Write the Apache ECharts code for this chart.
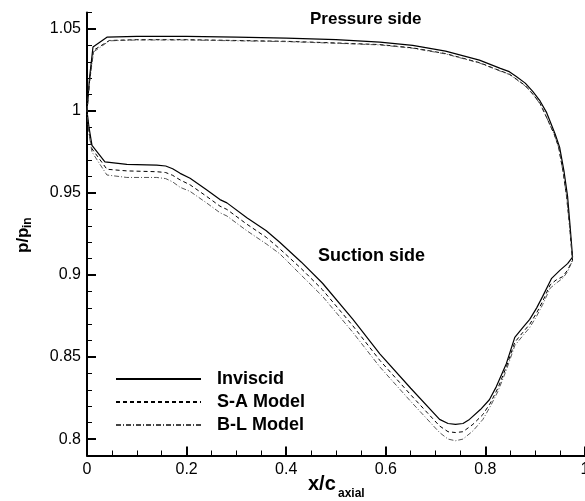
<!DOCTYPE html>
<html>
<head>
<meta charset="utf-8">
<script src="https://cdn.jsdelivr.net/npm/echarts@6/dist/echarts.min.js"></script>
<style>html,body{margin:0;padding:0;background:#fff}#c{width:585px;height:501px}</style>
</head>
<body>
<div id="c"></div>
<script>
// ---- data (x/c_axial, p/p_in) ----
var seriesNames = ['Inviscid', 'S-A Model', 'B-L Model'];

var inviscidPressure = [[0,1.0],[0.005,1.02],[0.012,1.039],[0.04,1.045],[0.1,1.0455],[0.2,1.0455],[0.3,1.045],[0.4,1.0445],[0.5,1.0435],[0.588,1.042],[0.654,1.040],[0.72,1.0365],[0.788,1.031],[0.83,1.026],[0.848,1.024],[0.862,1.021],[0.88,1.017],[0.895,1.012],[0.91,1.006],[0.923,0.999],[0.94,0.986],[0.949,0.978],[0.958,0.963],[0.965,0.948],[0.970,0.93],[0.975,0.911]];
var inviscidSuction = [[0,1.0],[0.004,0.99],[0.01,0.979],[0.036,0.969],[0.08,0.9675],[0.14,0.967],[0.158,0.9665],[0.172,0.9648],[0.187,0.962],[0.207,0.959],[0.24,0.952],[0.267,0.946],[0.281,0.944],[0.321,0.935],[0.36,0.927],[0.387,0.920],[0.43,0.908],[0.473,0.895],[0.534,0.873],[0.588,0.852],[0.65,0.831],[0.708,0.812],[0.725,0.8095],[0.74,0.809],[0.755,0.8095],[0.768,0.812],[0.79,0.818],[0.808,0.824],[0.822,0.832],[0.842,0.846],[0.859,0.862],[0.875,0.868],[0.889,0.873],[0.903,0.880],[0.915,0.887],[0.933,0.898],[0.95,0.903],[0.965,0.907],[0.975,0.911]];

var saPressure = [[0,1.0],[0.005,1.018],[0.013,1.037],[0.045,1.043],[0.1,1.0435],[0.2,1.0435],[0.3,1.043],[0.4,1.0425],[0.5,1.0415],[0.588,1.0405],[0.654,1.0385],[0.72,1.035],[0.788,1.0295],[0.83,1.0245],[0.848,1.0225],[0.862,1.0195],[0.88,1.0155],[0.895,1.0105],[0.91,1.0045],[0.92,0.998],[0.938,0.986],[0.947,0.978],[0.956,0.963],[0.963,0.948],[0.969,0.93],[0.975,0.909]];
var saSuction = [[0,1.0],[0.004,0.988],[0.01,0.977],[0.04,0.9645],[0.08,0.9635],[0.14,0.963],[0.158,0.9625],[0.172,0.9608],[0.187,0.958],[0.207,0.955],[0.24,0.948],[0.267,0.942],[0.281,0.940],[0.321,0.931],[0.36,0.923],[0.387,0.916],[0.43,0.904],[0.473,0.891],[0.534,0.869],[0.588,0.848],[0.65,0.827],[0.708,0.808],[0.725,0.8045],[0.74,0.804],[0.755,0.8045],[0.775,0.809],[0.795,0.815],[0.81,0.822],[0.825,0.831],[0.842,0.844],[0.859,0.859],[0.875,0.865],[0.889,0.870],[0.903,0.877],[0.915,0.884],[0.93,0.894],[0.942,0.897],[0.955,0.899],[0.965,0.903],[0.975,0.909]];

var blPressure = [[0,1.0],[0.005,1.017],[0.013,1.036],[0.045,1.0428],[0.1,1.0433],[0.2,1.0433],[0.3,1.0428],[0.4,1.0423],[0.5,1.0413],[0.588,1.0403],[0.654,1.0383],[0.72,1.0348],[0.788,1.0293],[0.83,1.0243],[0.848,1.0223],[0.862,1.0193],[0.88,1.0153],[0.895,1.0103],[0.91,1.0043],[0.92,0.998],[0.938,0.986],[0.947,0.978],[0.956,0.963],[0.963,0.948],[0.969,0.93],[0.975,0.909]];
var blSuction = [[0,1.0],[0.004,0.986],[0.01,0.975],[0.04,0.961],[0.08,0.9595],[0.14,0.9595],[0.158,0.9588],[0.172,0.9568],[0.187,0.9535],[0.207,0.951],[0.24,0.944],[0.267,0.938],[0.281,0.936],[0.321,0.927],[0.36,0.919],[0.387,0.913],[0.43,0.900],[0.473,0.887],[0.534,0.865],[0.588,0.844],[0.65,0.823],[0.708,0.804],[0.725,0.800],[0.74,0.799],[0.755,0.800],[0.775,0.805],[0.795,0.812],[0.81,0.820],[0.825,0.829],[0.842,0.842],[0.859,0.857],[0.875,0.863],[0.889,0.868],[0.903,0.875],[0.915,0.882],[0.93,0.892],[0.942,0.895],[0.955,0.898],[0.965,0.902],[0.975,0.909]];

var yMajorTicks = [0.8, 0.85, 0.9, 0.95, 1.0, 1.05];
var yMinorTicks = [0.8,0.81,0.82,0.83,0.84,0.85,0.86,0.87,0.88,0.89,0.9,0.91,0.92,0.93,0.94,0.95,0.96,0.97,0.98,0.99,1.0,1.01,1.02,1.03,1.04,1.05,1.06];

function loop(p, s) { return p.concat(s.slice().reverse()); }

var FONT = '"Liberation Sans", Arial, Helvetica, sans-serif';
var chart = echarts.init(document.getElementById('c'), null, {renderer: 'canvas'});

var fmt = function (v) { return String(+(+v).toFixed(2)); };

chart.setOption({
  animation: false,
  backgroundColor: '#fff',
  grid: {left: 87, right: 0, top: 12.6, bottom: 45.5, containLabel: false, outerBoundsMode: 'none'},
  xAxis: {
    type: 'value', min: 0, max: 1, interval: 0.2,
    axisLine: {show: true, lineStyle: {color: '#000', width: 2}},
    axisTick: {show: true, inside: true, length: 9, lineStyle: {color: '#000', width: 2}},
    minorTick: {show: true, splitNumber: 4, length: 5, lineStyle: {color: '#000', width: 1}},
    splitLine: {show: false}, minorSplitLine: {show: false},
    axisLabel: {color: '#000', fontSize: 16, fontFamily: FONT, margin: 6, formatter: fmt, showMaxLabel: true, hideOverlap: false}
  },
  yAxis: [{
    type: 'value', min: 0.79, max: 1.06,
    axisLine: {show: true, lineStyle: {color: '#000', width: 2}},
    axisTick: {show: true, inside: true, length: 9, customValues: yMajorTicks, lineStyle: {color: '#000', width: 2}},
    splitLine: {show: false},
    axisLabel: {color: '#000', fontSize: 16, fontFamily: FONT, margin: 6, customValues: yMajorTicks, formatter: fmt}
  }, {
    type: 'value', min: 0.79, max: 1.06, position: 'left', offset: 0,
    axisLine: {show: false},
    axisTick: {show: true, inside: true, length: 5, customValues: yMinorTicks, lineStyle: {color: '#000', width: 1}},
    splitLine: {show: false},
    axisLabel: {show: false, customValues: yMinorTicks}
  }],
  legend: {
    orient: 'vertical', left: 115, top: 370, padding: 0,
    itemWidth: 85, itemHeight: 14, itemGap: 5,
    itemStyle: {color: 'transparent', borderWidth: 0, opacity: 0},
    textStyle: {color: '#000', fontSize: 18, fontWeight: 'bold', fontFamily: FONT, padding: [0, 0, 0, 11]},
    data: seriesNames
  },
  series: [
    {name: seriesNames[0], type: 'line', symbol: 'none', showSymbol: false, data: loop(inviscidPressure, inviscidSuction),
     lineStyle: {color: '#000', width: 1.2, type: 'solid'}, itemStyle: {color: '#000'}},
    {name: seriesNames[1], type: 'line', symbol: 'none', showSymbol: false, data: loop(saPressure, saSuction),
     lineStyle: {color: '#000', width: 1, type: [4, 3]}, itemStyle: {color: '#000'}},
    {name: seriesNames[2], type: 'line', symbol: 'none', showSymbol: false, data: loop(blPressure, blSuction),
     lineStyle: {color: '#444', width: 0.9, type: [5, 2, 1, 2]}, itemStyle: {color: '#444'}}
  ],
  graphic: [
    {type: 'text', left: 310, top: 11, style: {text: 'Pressure side', font: 'bold 17px ' + FONT, fill: '#000'}},
    {type: 'text', left: 318, top: 247, style: {text: 'Suction side', font: 'bold 18px ' + FONT, fill: '#000'}},
    {type: 'text', x: 308, y: 484, style: {text: 'x/c', font: 'bold 20px ' + FONT, fill: '#000', verticalAlign: 'middle', align: 'left'}},
    {type: 'text', x: 338, y: 494, style: {text: 'axial', font: 'bold 12px ' + FONT, fill: '#000', verticalAlign: 'middle', align: 'left'}},
    {type: 'group', x: 23, y: 253, rotation: Math.PI / 2, children: [
      {type: 'text', x: 0, y: 0, style: {text: 'p/p', font: 'bold 17px ' + FONT, fill: '#000', verticalAlign: 'middle', align: 'left'}},
      {type: 'text', x: 25, y: 5, style: {text: 'in', font: 'bold 12px ' + FONT, fill: '#000', verticalAlign: 'middle', align: 'left'}}
    ]}
  ]
});
</script>
</body>
</html>
